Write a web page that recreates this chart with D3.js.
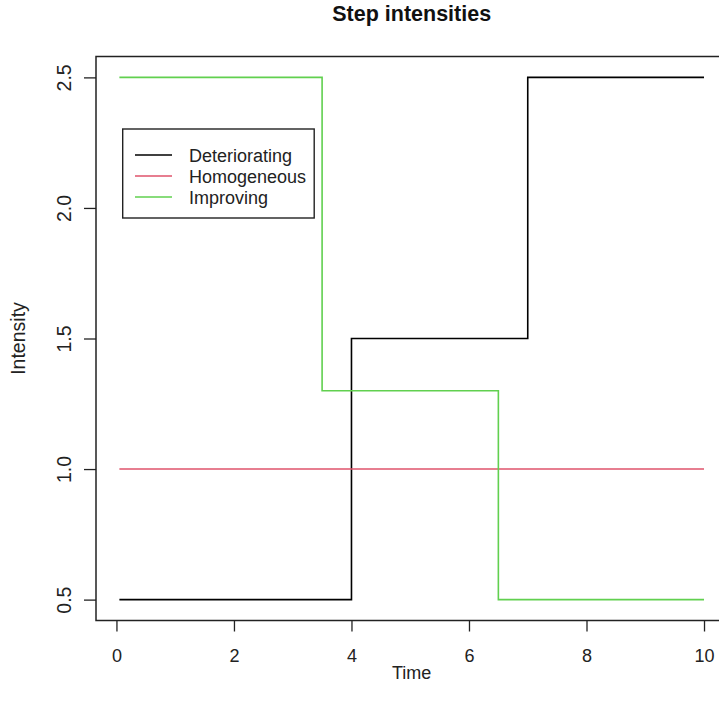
<!DOCTYPE html>
<html>
<head>
<meta charset="utf-8">
<script src="https://cdn.jsdelivr.net/npm/d3@7"></script>
<style>
  html, body { margin: 0; padding: 0; background: #fff; }
  svg { display: block; font-family: Arial, "Liberation Sans", Helvetica, sans-serif; }
</style>
</head>
<body>
<svg id="chart" width="719" height="715"></svg>
<script>
// Step intensity functions: each series is a list of [start time, level] breakpoints
const seriesNames = ["Deteriorating", "Homogeneous", "Improving"];
const seriesColors = ["#000000", "#DF536B", "#61D04F"];
const deteriorating = [[0.05, 0.5], [4, 1.5], [7, 2.5], [10, 2.5]];
const homogeneous   = [[0.05, 1.0], [10, 1.0]];
const improving     = [[0.05, 2.5], [3.5, 1.3], [6.5, 0.5], [10, 0.5]];
const xTicks = [0, 2, 4, 6, 8, 10];
const yTicks = [0.5, 1.0, 1.5, 2.0, 2.5];
const yTickLabels = ["0.5", "1.0", "1.5", "2.0", "2.5"];

const series = [deteriorating, homogeneous, improving];

const svg = d3.select("#chart");
const plot = { left: 96, right: 727.4, top: 56.5, bottom: 620.5 };

// Base-R style 4% padding of the data range
const xMin = 0.05, xMax = 10, yMin = 0.5, yMax = 2.5;
const xPad = 0.04 * (xMax - xMin), yPad = 0.04 * (yMax - yMin);
const x = d3.scaleLinear().domain([xMin - xPad, xMax + xPad]).range([plot.left, plot.right]);
const y = d3.scaleLinear().domain([yMin - yPad, yMax + yPad]).range([plot.bottom, plot.top]);

// Step lines
const line = d3.line()
  .x(d => x(d[0]))
  .y(d => y(d[1]))
  .curve(d3.curveStepAfter);

series.forEach((s, i) => {
  svg.append("path")
    .datum(s)
    .attr("fill", "none")
    .attr("stroke", seriesColors[i])
    .attr("stroke-width", 1.6)
    .attr("d", line);
});

// Plot frame
svg.append("rect")
  .attr("x", plot.left).attr("y", plot.top)
  .attr("width", plot.right - plot.left).attr("height", plot.bottom - plot.top)
  .attr("fill", "none").attr("stroke", "#222").attr("stroke-width", 1.5);

// X axis
const xAxis = svg.append("g")
  .attr("transform", `translate(0,${plot.bottom})`)
  .call(d3.axisBottom(x).tickValues(xTicks).tickFormat(d3.format("d")).tickSize(11).tickPadding(30));
xAxis.select(".domain").remove();
xAxis.selectAll(".tick line").attr("stroke", "#222").attr("stroke-width", 1.3);
xAxis.selectAll(".tick text")
  .attr("font-size", 18).attr("fill", "#222")
  .attr("font-family", "Arial, 'Liberation Sans', sans-serif")
  .attr("dy", "0");

// Y axis (labels rotated, as in base graphics)
const yAxis = svg.append("g")
  .attr("transform", `translate(${plot.left},0)`)
  .call(d3.axisLeft(y).tickValues(yTicks).tickFormat((d, i) => yTickLabels[i]).tickSize(12));
yAxis.select(".domain").remove();
yAxis.selectAll(".tick line").attr("stroke", "#222").attr("stroke-width", 1.3);
yAxis.selectAll(".tick text")
  .attr("font-size", 19.5).attr("fill", "#222")
  .attr("font-family", "Arial, 'Liberation Sans', sans-serif")
  .attr("text-anchor", "middle")
  .attr("x", 0).attr("dy", "0")
  .attr("transform", "translate(-25,0) rotate(-90)");

// Title and axis titles
svg.append("text")
  .attr("x", (plot.left + plot.right) / 2).attr("y", 21)
  .attr("text-anchor", "middle").attr("font-weight", "bold")
  .attr("font-size", 21.5).attr("fill", "#111")
  .text("Step intensities");

svg.append("text")
  .attr("x", (plot.left + plot.right) / 2).attr("y", 679)
  .attr("text-anchor", "middle").attr("font-size", 18).attr("fill", "#222")
  .text("Time");

svg.append("text")
  .attr("transform", `translate(25,${(plot.top + plot.bottom) / 2}) rotate(-90)`)
  .attr("text-anchor", "middle").attr("font-size", 19.5).attr("fill", "#222")
  .text("Intensity");

// Legend
const legend = svg.append("g");
legend.append("rect")
  .attr("x", 122.7).attr("y", 129).attr("width", 191.5).attr("height", 89)
  .attr("fill", "#fff").attr("stroke", "#222").attr("stroke-width", 1.4);
const rowY = [155, 176, 197];
seriesNames.forEach((name, i) => {
  legend.append("line")
    .attr("x1", 135).attr("x2", 172)
    .attr("y1", rowY[i]).attr("y2", rowY[i])
    .attr("stroke", seriesColors[i]).attr("stroke-width", 1.6);
  legend.append("text")
    .attr("x", 189).attr("y", rowY[i] + 6.5)
    .attr("font-size", 18).attr("fill", "#222")
    .text(name);
});
</script>
</body>
</html>
